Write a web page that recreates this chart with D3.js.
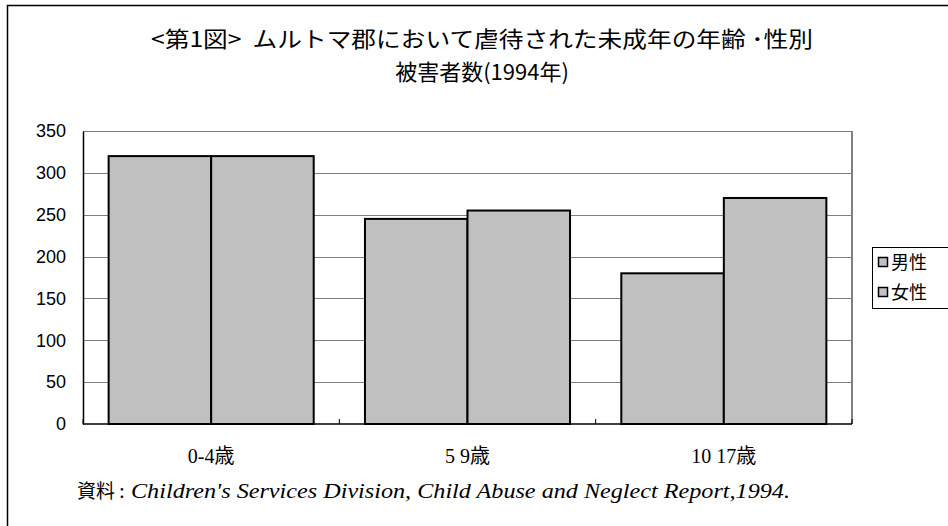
<!DOCTYPE html>
<html>
<head>
<meta charset="utf-8">
<script src="https://cdn.jsdelivr.net/npm/d3@7"></script>
<style>
  body { margin: 0; background: #fff; }
  text { font-family: "Liberation Sans", Arial, "Noto Sans CJK JP", sans-serif; }
</style>
</head>
<body>
<script>
// data
var categories = ["0-4歳", "5\u00a09歳", "10\u00a017歳"];
var seriesNames = ["男性", "女性"];
var male = [320, 245, 180];
var female = [320, 255, 270];
var yTicks = [0, 50, 100, 150, 200, 250, 300, 350];

var width = 948, height = 526;
var plotLeft = 83, plotRight = 852, plotTop = 131, plotBottom = 424;

var svg = d3.select("body").append("svg")
    .attr("width", width)
    .attr("height", height);

// outer frame (runs off the right and bottom edge)
svg.append("rect")
    .attr("x", 7.5).attr("y", 5.5)
    .attr("width", 980).attr("height", 560)
    .attr("fill", "none")
    .attr("stroke", "#000")
    .attr("stroke-width", 1.5);

var x = d3.scaleBand()
    .domain(categories)
    .range([plotLeft, plotRight])
    .paddingInner(0.2)
    .paddingOuter(0.1);

var xs = d3.scaleBand()
    .domain(seriesNames)
    .range([0, x.bandwidth()]);

var y = d3.scaleLinear()
    .domain([0, 350])
    .range([plotBottom, plotTop]);

// gridlines
svg.append("g")
    .selectAll("line")
    .data(yTicks.slice(1))
    .enter().append("line")
    .attr("x1", plotLeft).attr("x2", plotRight)
    .attr("y1", function(d) { return Math.round(y(d)) + 0.5; })
    .attr("y2", function(d) { return Math.round(y(d)) + 0.5; })
    .attr("stroke", "#808080")
    .attr("stroke-width", 1);

// right border of plot area
svg.append("line")
    .attr("x1", plotRight).attr("x2", plotRight)
    .attr("y1", plotTop).attr("y2", plotBottom)
    .attr("stroke", "#808080")
    .attr("stroke-width", 2);

// bars
var rows = categories.map(function(c, i) {
    return [{cat: c, s: seriesNames[0], v: male[i]}, {cat: c, s: seriesNames[1], v: female[i]}];
});

svg.append("g")
    .selectAll("g")
    .data(rows)
    .enter().append("g")
    .attr("transform", function(d) { return "translate(" + x(d[0].cat) + ",0)"; })
    .selectAll("rect")
    .data(function(d) { return d; })
    .enter().append("rect")
    .attr("x", function(d) { return xs(d.s); })
    .attr("y", function(d) { return y(d.v); })
    .attr("width", xs.bandwidth())
    .attr("height", function(d) { return plotBottom - y(d.v); })
    .attr("fill", "#c0c0c0")
    .attr("stroke", "#000")
    .attr("stroke-width", 2);

// y axis
var yAxis = svg.append("g")
    .attr("transform", "translate(" + plotLeft + ",0)")
    .call(d3.axisLeft(y).tickValues(yTicks).tickSize(0).tickPadding(17));
yAxis.select(".domain").attr("stroke", "#000").attr("stroke-width", 1.5);
yAxis.selectAll("text")
    .attr("font-size", "18px")
    .attr("font-family", "'Liberation Sans', Arial, sans-serif")
    .attr("fill", "#000");

// x axis line with inward ticks between categories
svg.append("line")
    .attr("x1", plotLeft).attr("x2", plotRight)
    .attr("y1", plotBottom).attr("y2", plotBottom)
    .attr("stroke", "#000")
    .attr("stroke-width", 1.5);

var seps = [plotLeft].concat(categories.map(function(c) { return x(c) + x.bandwidth() + x.step() * 0.1; }));
svg.append("g")
    .selectAll("line")
    .data(seps)
    .enter().append("line")
    .attr("x1", function(d) { return d; }).attr("x2", function(d) { return d; })
    .attr("y1", plotBottom).attr("y2", plotBottom - 5)
    .attr("stroke", "#000")
    .attr("stroke-width", 1);

// category labels
svg.append("g")
    .selectAll("text")
    .data(categories)
    .enter().append("text")
    .attr("x", function(d) { return x(d) + x.bandwidth() / 2; })
    .attr("y", 463)
    .attr("text-anchor", "middle")
    .style("font-family", "'Liberation Serif', 'Noto Sans CJK JP', serif")
    .style("font-size", "20px")
    .text(function(d) { return d; });

// title
svg.append("text")
    .attr("x", 482).attr("y", 47)
    .attr("text-anchor", "middle")
    .attr("textLength", 662)
    .attr("lengthAdjust", "spacingAndGlyphs")
    .style("font-family", "'Noto Sans CJK JP', sans-serif")
    .style("font-size", "22px")
    .text("<第1図>\u00a0\u00a0ムルトマ郡において虐待された未成年の年齢 ･性別");

svg.append("text")
    .attr("x", 482).attr("y", 80)
    .attr("text-anchor", "middle")
    .style("font-family", "'Noto Sans CJK JP', sans-serif")
    .style("font-size", "22px")
    .text("被害者数(1994年)");

// legend
var legend = svg.append("g");
legend.append("rect")
    .attr("x", 872.5).attr("y", 247.5)
    .attr("width", 90).attr("height", 61)
    .attr("fill", "#fff")
    .attr("stroke", "#000")
    .attr("stroke-width", 1);

var items = legend.selectAll("g.item")
    .data(seriesNames)
    .enter().append("g")
    .attr("class", "item")
    .attr("transform", function(d, i) { return "translate(878," + (262 + i * 30) + ")"; });

items.append("rect")
    .attr("x", 0.5).attr("y", -4.5)
    .attr("width", 9).attr("height", 9)
    .attr("fill", "#c0c0c0")
    .attr("stroke", "#000")
    .attr("stroke-width", 1.5);

items.append("text")
    .attr("x", 13).attr("y", 7)
    .style("font-family", "'Noto Sans CJK JP', sans-serif")
    .style("font-size", "18px")
    .text(function(d) { return d; });

// source note
svg.append("text")
    .attr("x", 77).attr("y", 498)
    .style("font-family", "'Noto Sans CJK JP', serif")
    .style("font-size", "19px")
    .text("資料 :");
svg.append("text")
    .attr("x", 131).attr("y", 498)
    .attr("textLength", 659)
    .attr("lengthAdjust", "spacingAndGlyphs")
    .style("font-family", "'Liberation Serif', serif")
    .style("font-style", "italic")
    .style("font-size", "22px")
    .text("Children's Services Division, Child Abuse and Neglect Report,1994.");
</script>
</body>
</html>
